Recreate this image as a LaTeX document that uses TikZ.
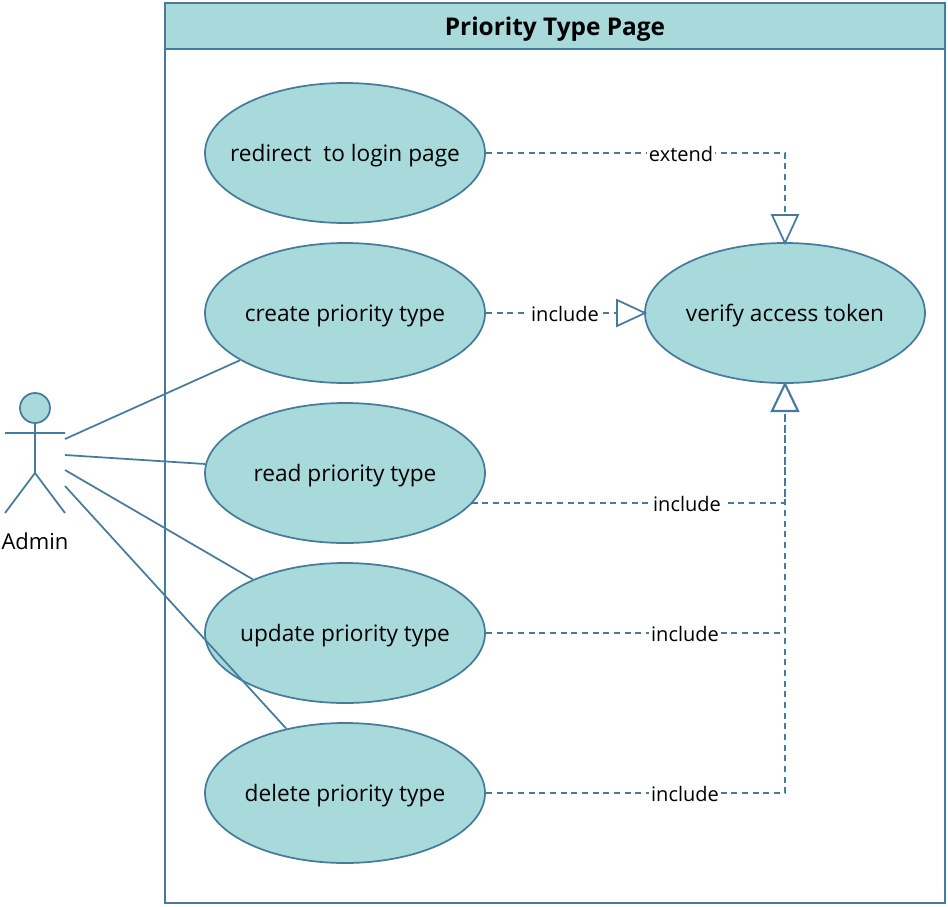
\documentclass[tikz,border=0pt]{standalone}
\usepackage{fontspec}
\setmainfont{Open Sans}
\usetikzlibrary{shapes.geometric,arrows.meta}
\definecolor{fillc}{HTML}{A8DADC}
\definecolor{linec}{HTML}{457B9D}
\newcommand{\uctxt}[1]{\raisebox{-6.1pt}[0pt][0pt]{\makebox[0pt]{#1}}}
\tikzset{x=0.75pt,y=-0.75pt,
 uc/.style={ellipse,draw=linec,fill=fillc,line width=1.3pt,minimum width=210pt,minimum height=105pt,inner sep=0pt,font=\fontsize{17pt}{20pt}\selectfont},
 lnk/.style={draw=linec,line width=1.3pt},
 dep/.style={lnk,dash pattern=on 4.5pt off 3.5pt},
 lab/.style={fill=white,inner sep=1.5pt,font=\fontsize{15pt}{18pt}\selectfont,text=black},
 tip/.style={draw=linec,fill=white,line width=1.3pt},
 frm/.style={draw=linec,line width=1.3pt,minimum width=585pt,inner sep=0pt,outer sep=0pt,anchor=north west}}
\begin{document}
\begin{tikzpicture}
\useasboundingbox (0,0) rectangle (948,906);
\node[frm,fill=white,minimum height=675pt] (page) at (165,3) {};
\node[frm,fill=fillc,minimum height=34.5pt,font=\bfseries\fontsize{18.3pt}{21pt}\selectfont] (title) at (165,3) {\raisebox{-7.2pt}[0pt][0pt]{Priority Type Page}};
\coordinate (a1) at (65,439);
\coordinate (a2) at (65,455);
\coordinate (a3) at (65,470);
\coordinate (a4) at (65,486);
\node[uc] (redir) at (345,153) {\uctxt{redirect\ \ to login page}};
\node[uc] (create) at (345,313) {\uctxt{create priority type}};
\node[uc] (read) at (345,473) {\uctxt{read priority type}};
\node[uc] (update) at (345,633) {\uctxt{update priority type}};
\node[uc] (delete) at (345,793) {\uctxt{delete priority type}};
\node[uc] (verify) at (785,313) {\uctxt{verify access token}};
% actor
\node[circle,draw=linec,fill=fillc,line width=1.3pt,minimum size=22.5pt,inner sep=0pt] (head) at (35,408) {};
\coordinate (hip) at (35,473);
\coordinate (armL) at (5,433);
\coordinate (armR) at (65,433);
\coordinate (footL) at (5,513);
\coordinate (footR) at (65,513);
\draw[lnk] (head) -- (hip) (armL) -- (armR) (hip) -- (footL) (hip) -- (footR);
\node[anchor=north,font=\fontsize{16.5pt}{20pt}\selectfont,inner sep=0pt] (admin) at (35,533) {Admin};
\draw[lnk] (a1) -- (create);
\draw[lnk] (a2) -- (read);
\draw[lnk] (a3) -- (update);
\draw[lnk] (a4) -- (delete);
% tips
\coordinate (vt) at (785,243);
\coordinate (vb) at (785,384);
\coordinate (vl) at (645,313);
\coordinate (rs) at (471.5,503);
% dependencies
\draw[dep] (redir.east) -- (785,153) -- (785,215);
\draw[dep] (create.east) -- (617,313);
\draw[dep] (rs) -- (785,503) -- (785,411);
\draw[dep] (update.east) -- (785,633) -- (785,411);
\draw[dep] (delete.east) -- (785,793) -- (785,411);
\draw[tip] (vt) -- (772,215) -- (798,215) -- cycle;
\draw[tip] (vl) -- (617,300) -- (617,326) -- cycle;
\draw[tip,line width=1.6pt] (vb) -- (772,411) -- (798,411) -- cycle;
\node[lab] (l1) at (681,154) {extend};
\node[lab] (l2) at (565,314) {include};
\node[lab] (l3) at (687,504) {include};
\node[lab] (l4) at (685,634) {include};
\node[lab] (l5) at (685,794) {include};
\end{tikzpicture}
\end{document}
